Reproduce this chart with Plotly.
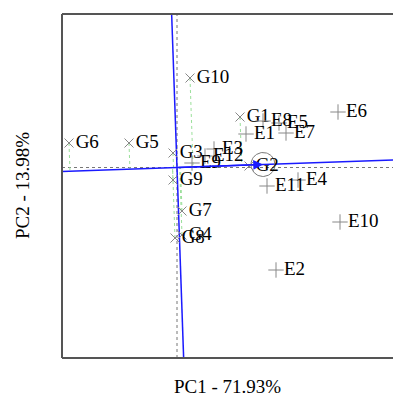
import numpy as np
import plotly.graph_objects as go

# Genotype scores (PC1, PC2)
genotypes = ["G1", "G2", "G3", "G4", "G5", "G6", "G7", "G8", "G9", "G10"]
g_pc1 = [1.26, 1.44, -0.08, 0.10, -0.96, -2.16, 0.10, -0.04, -0.08, 0.26]
g_pc2 = [1.01, 0.03, 0.29, -1.35, 0.49, 0.49, -0.87, -1.41, -0.25, 1.79]

# Environment scores (PC1, PC2)
environments = ["E1", "E2", "E3", "E4", "E5", "E6", "E7", "E8", "E9", "E10", "E11", "E12"]
e_pc1 = [1.38, 1.98, 0.74, 2.42, 2.04, 3.22, 2.18, 1.72, 0.30, 3.26, 1.80, 0.56]
e_pc2 = [0.67, -2.05, 0.37, -0.25, 0.89, 1.11, 0.69, 0.93, 0.09, -1.09, -0.37, 0.23]

# Average environment coordinate
avg_env = [1.72, 0.06]
circle_r = 0.24

x_title = "PC1 - 71.93%"
y_title = "PC2 - 13.98%"

x_range = [-2.30, 4.32]
y_range = [-3.81, 3.07]

FONT = "Liberation Serif"

fig = go.Figure()

d = np.array(avg_env) / np.linalg.norm(avg_env)
perp = np.array([-d[1], d[0]])

# projection lines of genotypes onto the AEA
for gx, gy in zip(g_pc1, g_pc2):
    p = np.array([gx, gy])
    foot = np.dot(p, d) * d
    fig.add_trace(go.Scatter(x=[gx, foot[0]], y=[gy, foot[1]], mode="lines",
                             line=dict(color="#9be09b", width=1, dash="dot"),
                             hoverinfo="skip", showlegend=False))

# origin dotted lines
fig.add_shape(type="line", x0=0, x1=0, y0=y_range[0], y1=y_range[1], xref="x", yref="y",
              line=dict(color="#777777", width=1, dash="dot"), layer="below")
fig.add_shape(type="line", x0=x_range[0], x1=x_range[1], y0=0, y1=0, xref="x", yref="y",
              line=dict(color="#777777", width=1, dash="dot"), layer="below")

# AEA lines
T = 20
fig.add_trace(go.Scatter(x=[-T * d[0], T * d[0]], y=[-T * d[1], T * d[1]], mode="lines",
                         line=dict(color="#1a1aff", width=1.5), hoverinfo="skip", showlegend=False))
fig.add_trace(go.Scatter(x=[-T * perp[0], T * perp[0]], y=[-T * perp[1], T * perp[1]], mode="lines",
                         line=dict(color="#1a1aff", width=1.5), hoverinfo="skip", showlegend=False))

# circle around average environment
th = np.linspace(0, 2 * np.pi, 80)
fig.add_trace(go.Scatter(x=avg_env[0] + circle_r * np.cos(th), y=avg_env[1] + circle_r * np.sin(th),
                         mode="lines", line=dict(color="#777777", width=1),
                         hoverinfo="skip", showlegend=False))

# genotypes
fig.add_trace(go.Scatter(x=g_pc1, y=g_pc2, mode="markers+text", text=genotypes,
                         textposition="middle right",
                         textfont=dict(family=FONT, size=19, color="black"),
                         marker=dict(symbol="x-thin", size=9, line=dict(color="#888888", width=1)),
                         hoverinfo="skip", showlegend=False))
# environments
fig.add_trace(go.Scatter(x=e_pc1, y=e_pc2, mode="markers+text", text=environments,
                         textposition="middle right",
                         textfont=dict(family=FONT, size=19, color="black"),
                         marker=dict(symbol="cross-thin", size=11, line=dict(color="#888888", width=1)),
                         hoverinfo="skip", showlegend=False))

# arrow to the average environment
fig.add_annotation(x=avg_env[0], y=avg_env[1], ax=0, ay=0, xref="x", yref="y",
                   axref="x", ayref="y", showarrow=True, arrowhead=2, arrowsize=1.3,
                   arrowwidth=1.5, arrowcolor="#1a1aff", text="")

# frame (left, top, bottom)
for x0, y0, x1, y1 in [(0, 0, 0, 1), (0, 1, 1.01, 1), (0, 0, 1.01, 0)]:
    fig.add_shape(type="line", xref="paper", yref="paper", x0=x0, y0=y0, x1=x1, y1=y1,
                  line=dict(color="#555555", width=2))

fig.add_annotation(text=x_title, xref="paper", yref="paper", x=0.5, y=0, yanchor="middle",
                   yshift=-28, showarrow=False, font=dict(family=FONT, size=19, color="black"))
fig.add_annotation(text=y_title, xref="paper", yref="paper", x=0, y=0.5, xanchor="center",
                   xshift=-40, textangle=-90, showarrow=False,
                   font=dict(family=FONT, size=19, color="black"))

fig.update_xaxes(range=x_range, showgrid=False, zeroline=False, showticklabels=False,
                 ticks="", showline=False)
fig.update_yaxes(range=y_range, showgrid=False, zeroline=False, showticklabels=False,
                 ticks="", showline=False)
fig.update_layout(width=393, height=397, margin=dict(l=62, r=0, t=14, b=39),
                  paper_bgcolor="white", plot_bgcolor="white", showlegend=False)

fig.write_html("out.html")
